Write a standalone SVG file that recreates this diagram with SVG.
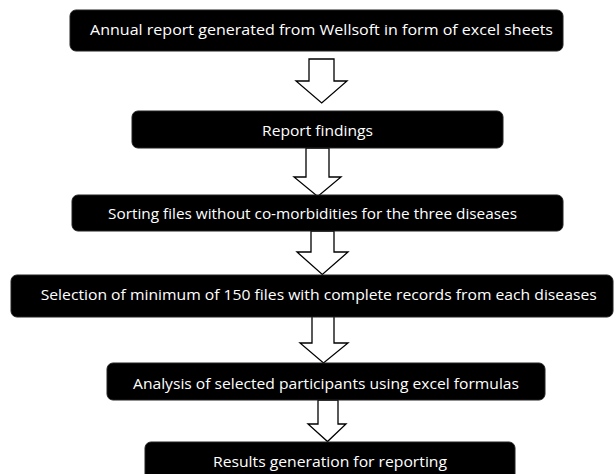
<svg xmlns="http://www.w3.org/2000/svg" width="614" height="474" viewBox="0 0 614 474">
<style>
.box{fill:#000;stroke:#222;stroke-width:1}
.lbl{fill:#fff;font-family:"Open Sans","Noto Sans","Liberation Sans",sans-serif;font-size:14.5px;text-anchor:middle}
.arr{fill:#fff;stroke:#000;stroke-width:1.3;stroke-linejoin:miter}
</style>
<rect width="614" height="474" fill="#fff"/>
<g id="connectors">
<polygon class="arr" points="309,59 334,59 334,81 347,81 321.7,103 296,81 309,81"/>
<polygon class="arr" points="306,148 329,148 329,177 341,177 317.7,196.5 294,177 306,177"/>
<polygon class="arr" points="311,231 334,231 334,252 348,252 322.3,274.5 297,252 311,252"/>
<polygon class="arr" points="312,316 334,316 334,343 348,343 323.5,363 300,343 312,343"/>
<polygon class="arr" points="318,400 338,400 338,424 346,424 327.5,441.5 308,424 318,424"/>
</g>
<g id="n1">
<rect class="box" x="70" y="10" width="493" height="41" rx="6"/>
<text class="lbl" x="321.5" y="35" textLength="463" lengthAdjust="spacingAndGlyphs">Annual report generated from Wellsoft in form of excel sheets</text>
</g>
<g id="n2">
<rect class="box" x="132" y="111" width="371" height="37" rx="6"/>
<text class="lbl" x="317.5" y="135.5" textLength="111" lengthAdjust="spacingAndGlyphs">Report findings</text>
</g>
<g id="n3">
<rect class="box" x="72" y="195" width="491" height="36" rx="6"/>
<text class="lbl" x="312.5" y="219" textLength="409" lengthAdjust="spacingAndGlyphs">Sorting files without co-morbidities for the three diseases</text>
</g>
<g id="n4">
<rect class="box" x="11" y="275" width="602" height="42" rx="6"/>
<text class="lbl" x="318.7" y="300" textLength="556" lengthAdjust="spacingAndGlyphs">Selection of minimum of 150 files with complete records from each diseases</text>
</g>
<g id="n5">
<rect class="box" x="107" y="363" width="438" height="37" rx="6"/>
<text class="lbl" x="326" y="389.3" textLength="386" lengthAdjust="spacingAndGlyphs">Analysis of selected participants using excel formulas</text>
</g>
<g id="n6">
<rect class="box" x="145" y="442" width="370" height="40" rx="6"/>
<text class="lbl" x="330" y="466.5" textLength="234" lengthAdjust="spacingAndGlyphs">Results generation for reporting</text>
</g>
</svg>
